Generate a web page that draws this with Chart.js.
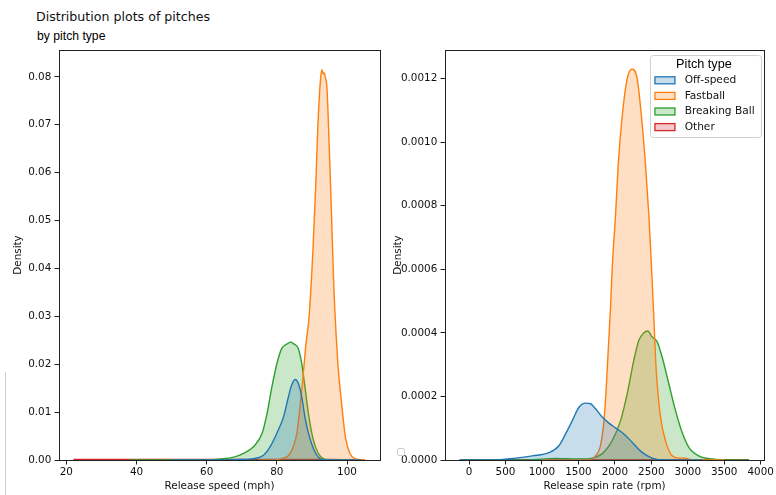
<!DOCTYPE html>
<html>
<head>
<meta charset="utf-8">
<script src="https://cdn.jsdelivr.net/npm/chart.js@4.4.0/dist/chart.umd.min.js"></script>
<style>
  body { margin: 0; background: #fff; }
  #wrap { position: relative; width: 776px; height: 495px; overflow: hidden; background: #fff; }
  .title { position: absolute; left: 36px; top: 11.4px; font-family: 'DejaVu Sans'; font-size: 12.6px; line-height: 1; color: #111; white-space: nowrap; }
  .subtitle { position: absolute; left: 37px; top: 29.6px; font-family: 'Liberation Sans'; font-size: 12.2px; line-height: 1; color: #000; white-space: nowrap; }
  #speedChart { position: absolute; left: 0; top: 0; }
  #spinChart { position: absolute; left: 390px; top: 0; }
  .edge { position: absolute; left: 5px; top: 372px; width: 1px; height: 123px; background: #cfcfcf; }
  .stub { position: absolute; left: 397px; top: 448px; width: 6px; height: 6px; border: 1px solid #cfcfcf; border-radius: 2px; background: #fff; }
</style>
</head>
<body>
<div id="wrap">
  <div class="title">Distribution plots of pitches</div>
  <div class="subtitle">by pitch type</div>
  <canvas id="speedChart" width="390" height="495"></canvas>
  <canvas id="spinChart" width="386" height="495"></canvas>
  <div class="edge"></div>
  <div class="stub"></div>
</div>
<script>
const pitchTypes = ['Off-speed', 'Fastball', 'Breaking Ball', 'Other'];
const pitchColors = ['#1f77b4', '#ff7f0e', '#2ca02c', '#d62728'];

// release speed (mph) densities
const offspeedSpeedX = [50, 65, 70, 73.4, 76.2, 78.1, 80.0, 81.9, 83.3, 84.2, 85.2, 86.1, 87.1, 88.0, 89.0, 90.4, 91.8, 93.7, 98, 104];
const offspeedSpeedY = [0, 0, 0.0001, 0.0003, 0.0010, 0.0028, 0.0056, 0.0090, 0.0132, 0.0156, 0.0168, 0.0160, 0.0132, 0.0090, 0.0056, 0.0024, 0.0006, 0, 0, 0];
const fastballSpeedX = [75, 79.5, 81.4, 83.8, 85.7, 86.6, 87.5, 88.3, 89.2, 90.3, 91.1, 91.7, 92.2, 92.6, 92.9, 93.2, 93.5, 93.8, 94.3, 94.9, 95.5, 96.2, 96.9, 97.4, 98.0, 98.7, 99.6, 100.8, 102.2, 105.2];
const fastballSpeedY = [0, 0, 0.0003, 0.0014, 0.0056, 0.0111, 0.0178, 0.0243, 0.0300, 0.0440, 0.0576, 0.0700, 0.0770, 0.0805, 0.0815, 0.0806, 0.0808, 0.0800, 0.0774, 0.0660, 0.0530, 0.0370, 0.0260, 0.0200, 0.0150, 0.0100, 0.0045, 0.0014, 0.0003, 0];
const breakingSpeedX = [38, 60, 63.9, 67.7, 70.5, 73.4, 75.8, 77.2, 78.6, 80.0, 81.4, 82.8, 84.0, 84.7, 86.1, 87.1, 88.0, 89.0, 90.4, 91.8, 93.2, 95.1, 100];
const breakingSpeedY = [0, 0, 0.0002, 0.0006, 0.0014, 0.0028, 0.0056, 0.0097, 0.0153, 0.0201, 0.0233, 0.0242, 0.0246, 0.0243, 0.0233, 0.0201, 0.0153, 0.0097, 0.0042, 0.0014, 0.0003, 0, 0];
const otherSpeedX = [22, 40, 60, 80, 95, 105];
const otherSpeedY = [0.0001, 0.0001, 0.0001, 0.0001, 0.0001, 0];

// release spin rate (rpm) densities
const offspeedSpinX = [-128, 300, 640, 868, 1096, 1233, 1324, 1416, 1507, 1598, 1667, 1735, 1826, 1918, 2009, 2123, 2237, 2374, 2511, 2694, 3200];
const offspeedSpinY = [0, 0, 0.000006, 0.000013, 0.000023, 0.000045, 0.000082, 0.000124, 0.000166, 0.000179, 0.000177, 0.000161, 0.000135, 0.000116, 0.000101, 0.000082, 0.000056, 0.000024, 0.000006, 0, 0];
const fastballSpinX = [1000, 1598, 1735, 1804, 1849, 1880, 1910, 1940, 1965, 2009, 2046, 2100, 2169, 2237, 2306, 2365, 2420, 2466, 2502, 2534, 2560, 2580, 2626, 2694, 2785, 2877, 2968, 3014, 3105, 3500];
const fastballSpinY = [0, 0, 0.000013, 0.000047, 0.00012, 0.00022, 0.00035, 0.00048, 0.00061, 0.00077, 0.00093, 0.00108, 0.0012, 0.00123, 0.0012, 0.00108, 0.00093, 0.00077, 0.00061, 0.00045, 0.00031, 0.00024, 0.000135, 0.000061, 0.000013, 0.000006, 0.000006, 0.000003, 0, 0];
const breakingSpinX = [-128, 800, 1187, 1350, 1507, 1689, 1826, 1963, 2078, 2169, 2260, 2329, 2397, 2452, 2511, 2580, 2648, 2740, 2831, 2922, 3014, 3151, 3333, 3607, 3839];
const breakingSpinY = [0, 0, 0.000005, 0.000004, 0.000003, 0.000006, 0.00002, 0.000061, 0.000124, 0.000208, 0.000314, 0.000377, 0.0004, 0.000406, 0.000387, 0.000372, 0.000324, 0.00024, 0.000156, 0.000087, 0.00004, 0.000013, 0.000003, 0, 0];
const otherSpinX = [-128, 1000, 2000, 3000, 3839];
const otherSpinY = [0.000001, 0.000001, 0.000001, 0.000001, 0.000001];

// tick marks
const speedTicks = [20, 40, 60, 80, 100];
const speedDensityTicks = [0, 0.01, 0.02, 0.03, 0.04, 0.05, 0.06, 0.07, 0.08];
const spinTicks = [0, 500, 1000, 1500, 2000, 2500, 3000, 3500, 4000];
const spinDensityTicks = [0, 0.0002, 0.0004, 0.0006, 0.0008, 0.0010, 0.0012];

Chart.defaults.font.family = 'DejaVu Sans';
Chart.defaults.font.size = 10.4;
Chart.defaults.color = '#111';

const toPoints = (xs, ys) => xs.map((x, i) => ({ x, y: ys[i] }));

function fade(hex, a) {
  const n = parseInt(hex.slice(1), 16);
  return `rgba(${n >> 16}, ${(n >> 8) & 255}, ${n & 255}, ${a})`;
}

// matplotlib-style box around the axes
const frame = {
  id: 'frame',
  afterDatasetsDraw(chart) {
    const { ctx, chartArea: a } = chart;
    ctx.save();
    ctx.strokeStyle = '#222';
    ctx.lineWidth = 1;
    ctx.strokeRect(Math.round(a.left) + 0.5, Math.round(a.top) + 0.5,
      Math.round(a.right - a.left), Math.round(a.bottom - a.top));
    ctx.restore();
  }
};

// boxed legend in the upper right corner
const pitchLegend = {
  id: 'pitchLegend',
  afterDatasetsDraw(chart) {
    const { ctx, chartArea: a } = chart;
    const x0 = a.right - 113.5, y0 = a.top + 5.5, w = 111, h = 82;
    ctx.save();
    ctx.beginPath();
    ctx.roundRect(x0, y0, w, h, 3);
    ctx.fillStyle = 'rgba(255,255,255,0.8)';
    ctx.fill();
    ctx.strokeStyle = '#d0d0d0';
    ctx.lineWidth = 1;
    ctx.stroke();

    ctx.fillStyle = '#000';
    ctx.font = "12.7px 'Liberation Sans'";
    ctx.textAlign = 'center';
    ctx.textBaseline = 'alphabetic';
    ctx.fillText('Pitch type', x0 + w / 2 - 2, y0 + 12);

    ctx.font = "10.6px 'DejaVu Sans'";
    ctx.textAlign = 'left';
    ctx.textBaseline = 'middle';
    chart.data.datasets.forEach((ds, i) => {
      const cy = y0 + 24.8 + i * 15.6;
      ctx.fillStyle = ds.backgroundColor;
      ctx.fillRect(x0 + 4.5, cy - 3.5, 20, 7);
      ctx.strokeStyle = ds.borderColor;
      ctx.lineWidth = 1.3;
      ctx.strokeRect(x0 + 4.5, cy - 3.5, 20, 7);
      ctx.fillStyle = '#111';
      ctx.fillText(ds.label, x0 + 34.2, cy);
    });
    ctx.restore();
  }
};

function densityChart(canvasId, series, xCfg, yCfg, extraPlugins) {
  return new Chart(document.getElementById(canvasId), {
    type: 'line',
    data: {
      datasets: series.map((pts, i) => ({
        label: pitchTypes[i],
        data: pts,
        borderColor: pitchColors[i],
        backgroundColor: fade(pitchColors[i], 0.25),
        borderWidth: 1.4,
        fill: 'origin',
        pointRadius: 0,
        cubicInterpolationMode: 'monotone'
      }))
    },
    options: {
      responsive: false,
      animation: false,
      layout: { padding: { top: 50, right: xCfg.padRight, bottom: 0, left: 0 } },
      plugins: { legend: { display: false }, tooltip: { enabled: false } },
      scales: {
        x: {
          type: 'linear',
          min: xCfg.min,
          max: xCfg.max,
          afterBuildTicks: s => { s.ticks = xCfg.ticks.map(v => ({ value: v })); },
          afterFit: s => { s.height = 35; },
          ticks: { padding: 2, callback: v => String(v) },
          grid: { drawOnChartArea: false, drawTicks: true, tickLength: 4.5, color: '#222' },
          border: { display: false },
          title: { display: true, text: xCfg.title, padding: { top: 0, bottom: 2.8 } }
        },
        y: {
          min: 0,
          max: yCfg.max,
          afterBuildTicks: s => { s.ticks = yCfg.ticks.map(v => ({ value: v })); },
          afterFit: s => { s.width = yCfg.width; },
          ticks: { padding: 3.2, callback: v => v.toFixed(yCfg.digits) },
          grid: { drawOnChartArea: false, drawTicks: true, tickLength: 4.5, color: '#222' },
          border: { display: false },
          title: { display: true, text: 'Density', padding: { top: yCfg.titlePad, bottom: 0 } }
        }
      }
    },
    plugins: [frame, ...extraPlugins]
  });
}

densityChart('speedChart',
  [toPoints(offspeedSpeedX, offspeedSpeedY), toPoints(fastballSpeedX, fastballSpeedY),
   toPoints(breakingSpeedX, breakingSpeedY), toPoints(otherSpeedX, otherSpeedY)],
  { min: 17.9, max: 109.4, ticks: speedTicks, title: 'Release speed (mph)', padRight: 10 },
  { max: 0.0856, ticks: speedDensityTicks, digits: 2, width: 59, titlePad: 12 },
  []);

densityChart('spinChart',
  [toPoints(offspeedSpinX, offspeedSpinY), toPoints(fastballSpinX, fastballSpinY),
   toPoints(breakingSpinX, breakingSpinY), toPoints(otherSpinX, otherSpinY)],
  { min: -330, max: 4045, ticks: spinTicks, title: 'Release spin rate (rpm)', padRight: 9 },
  { max: 0.00129, ticks: spinDensityTicks, digits: 4, width: 55, titlePad: 2 },
  [pitchLegend]);
</script>
</body>
</html>
